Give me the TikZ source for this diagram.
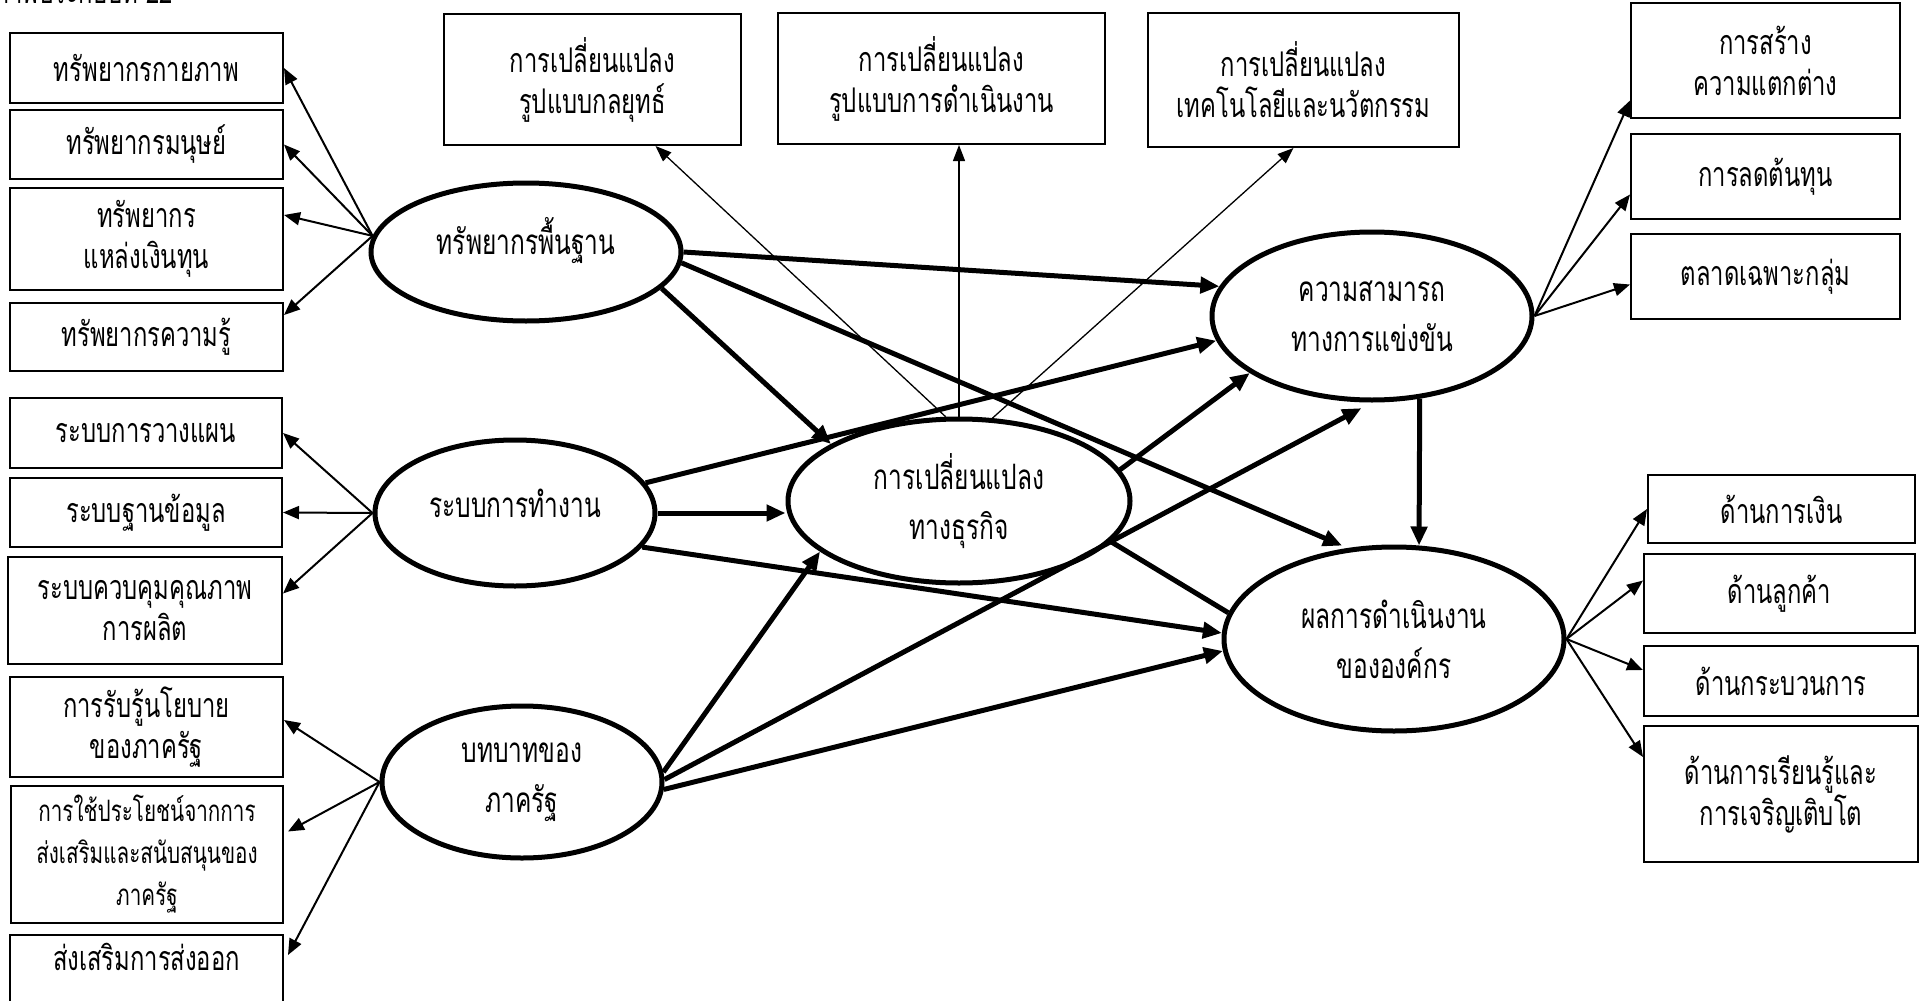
\documentclass[tikz,border=0pt]{standalone}
\usepackage{fontspec}
\newfontfamily\thai[Script=Thai,FakeStretch=0.7]{Loma}
\usetikzlibrary{arrows.meta,shapes.geometric,calc}
\tikzset{
 bx/.style={draw, line width=2pt, inner sep=0pt, align=center, font=\thai\fontsize{34}{41}\selectfont},
 ell/.style={ellipse, draw, line width=5pt, inner sep=0pt, align=center, font=\thai\fontsize{35}{50}\selectfont},
 thn/.style={line width=2pt, -{Triangle[length=16pt,width=13pt]}},
 hair/.style={line width=1.3pt, -{Triangle[length=16pt,width=12pt]}},
 thk/.style={line width=5pt, -{Triangle[length=19pt,width=16pt]}},
 thkplain/.style={line width=5pt},
}
\newcommand\mybox[7][]{\node[bx,#1, minimum width={(#5-#3)*1pt}, minimum height={(#6-#4)*1pt}] (#2) at ({(#3+#5)/2},{(#4+#6)/2}) {#7};}
\begin{document}
\begin{tikzpicture}[x=1pt,y=-1pt]
\useasboundingbox (0,0) rectangle (1923,1001);
\fill[white] (0,0) rectangle (1923,1001);
\node[anchor=base east, inner sep=0pt, font=\thai\fontsize{34}{41}\selectfont] (title) at (173,4) {ภาพประกอบที่ 22};
% left boxes
\mybox{b1}{10}{33}{283}{103}{ทรัพยากรกายภาพ}
\mybox{b2}{10}{110}{283}{179}{ทรัพยากรมนุษย์}
\mybox{b3}{10}{188}{283}{290}{ทรัพยากร\\แหล่งเงินทุน}
\mybox{b4}{10}{303}{283}{371}{ทรัพยากรความรู้}
\mybox{b5}{10}{398}{282}{468}{ระบบการวางแผน}
\mybox{b6}{10}{478}{282}{547}{ระบบฐานข้อมูล}
\mybox{b7}{8}{557}{282}{664}{ระบบควบคุมคุณภาพ\\การผลิต}
\mybox{b8}{10}{677}{283}{777}{การรับรู้นโยบาย\\ของภาครัฐ}
\mybox[font=\thai\fontsize{29.5}{42}\selectfont]{b9}{11}{786}{283}{923}{การใช้ประโยชน์จากการ\\ส่งเสริมและสนับสนุนของ\\ภาครัฐ}
\mybox{b10}{10}{935}{283}{1003}{\raisebox{24pt}{ส่งเสริมการส่งออก}}
% top boxes
\mybox{strat}{444}{14}{741}{145}{การเปลี่ยนแปลง\\รูปแบบกลยุทธ์}
\mybox{ops}{778}{13}{1105}{144}{การเปลี่ยนแปลง\\รูปแบบการดำเนินงาน}
\mybox{tech}{1148}{13}{1459}{147}{การเปลี่ยนแปลง\\เทคโนโลยีและนวัตกรรม}
% right boxes
\mybox{r1}{1631}{3}{1900}{118}{การสร้าง\\ความแตกต่าง}
\mybox{r2}{1631}{134}{1900}{219}{การลดต้นทุน}
\mybox{r3}{1631}{234}{1900}{319}{ตลาดเฉพาะกลุ่ม}
\mybox{d1}{1648}{475}{1915}{543}{ด้านการเงิน}
\mybox{d2}{1644}{554}{1915}{633}{ด้านลูกค้า}
\mybox{d3}{1644}{646}{1918}{716}{ด้านกระบวนการ}
\mybox{d4}{1644}{726}{1918}{862}{ด้านการเรียนรู้และ\\การเจริญเติบโต}
% ellipses
\node[ell, minimum width=310pt, minimum height=138pt] (R) at (526,252) {\raisebox{32pt}{ทรัพยากรพื้นฐาน}};
\node[ell, minimum width=280pt, minimum height=146pt] (S) at (515,513) {\raisebox{20pt}{ระบบการทำงาน}};
\node[ell, minimum width=280pt, minimum height=152pt] (G) at (522,782) {บทบาทของ\\ภาครัฐ};
\node[ell, minimum width=342pt, minimum height=164pt] (T) at (959,501) {การเปลี่ยนแปลง\\ทางธุรกิจ};
\node[ell, minimum width=320pt, minimum height=168pt] (K) at (1372,316) {ความสามารถ\\ทางการแข่งขัน};
\node[ell, minimum width=340pt, minimum height=184pt] (P) at (1394,639) {ผลการดำเนินงาน\\ขององค์กร};
% left thin arrows
\draw[thn] (R.174) -- (b1.east);
\draw[thn] (R.174) -- (b2.east);
\draw[thn] (R.174) -- ([yshift=24pt]b3.east);
\draw[thn] (R.174) -- ([yshift=22pt]b4.east);
\draw[thn] (S.west) -- (b5.east);
\draw[thn] (S.west) -- (b6.east);
\draw[thn] (S.west) -- ([yshift=17pt]b7.east);
\draw[thn] (G.west) -- ([yshift=7pt]b8.east);
\draw[thn] (G.west) -- ([xshift=4pt,yshift=23pt]b9.east);
\draw[thn] (G.west) -- ([xshift=4pt,yshift=14pt]b10.east);
% right thin arrows
\draw[thn] (K.east) -- ([yshift=-40pt]r1.west);
\draw[thn] (K.east) -- ([yshift=-18pt]r2.west);
\draw[thn] (K.east) -- ([yshift=-8pt]r3.west);
\draw[thn] (P.east) -- (d1.west);
\draw[thn] (P.east) -- ([yshift=13pt]d2.west);
\draw[thn] (P.east) -- ([yshift=11pt]d3.west);
\draw[thn] (P.east) -- ([yshift=37pt]d4.east -| d4.west);
% top hairline arrows
\draw[hair] (T.99) -- ([xshift=63pt]strat.south);
\draw[hair] (T.north) -- (T.north |- ops.south);
\draw[hair] (T.68) -- ([xshift=-10pt]tech.south);
% thick arrows
\draw[thk] (R.east) -- (K.169);
\draw[thk] (R.-15) -- (T.156);
\draw[thk, shorten >=6pt] (R.-4) -- (P.117);
\draw[thk] (S.13) -- (K.189);
\draw[thk] (S.east) -- (S.east -| T.west);
\draw[thk] (S.-15) -- (P.178);
\draw[thk] (G.4) -- (T.200);
\draw[thk, shorten >=12pt] (G.1) -- (K.south);
\draw[thk] (G.-3) -- (P.184);
\draw[thk] (T.11) -- (K.205);
\draw[thkplain] (T.-15) -- (P.171);
\draw[thk] (K.-60.8) -- (P.75.8);
\end{tikzpicture}
\end{document}
